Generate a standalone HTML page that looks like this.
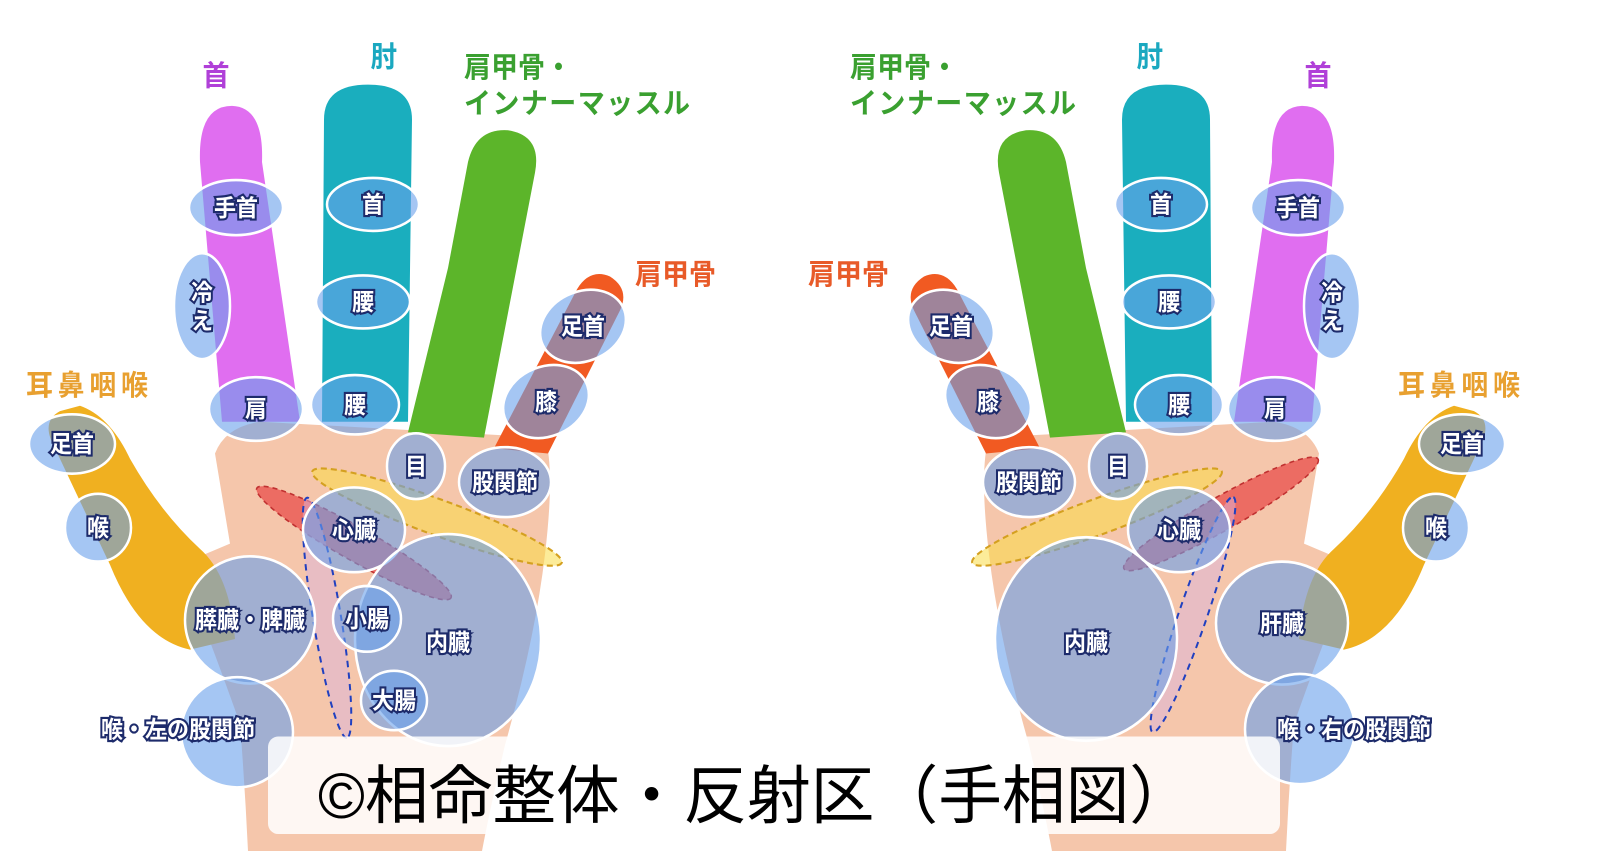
<!DOCTYPE html>
<html><head><meta charset="utf-8"><style>
html,body{margin:0;padding:0;background:#fff;}
svg{display:block;}
.l{font-family:"Liberation Sans","Noto Sans CJK JP",sans-serif;font-weight:bold;font-size:22px;fill:#fff;stroke:#1d2b6b;stroke-width:4px;paint-order:stroke;text-anchor:middle;dominant-baseline:central;}
.h{font-family:"Liberation Sans","Noto Sans CJK JP",sans-serif;font-weight:bold;font-size:27px;}
.e{fill:rgba(105,160,235,0.6);stroke:#fff;stroke-width:2.5;}
</style></head><body>
<svg width="1616" height="866" viewBox="0 0 1616 866" xmlns="http://www.w3.org/2000/svg">
<defs>
<g id="hand">
  <path d="M215,425 Q225,400 260,395 L545,410 Q555,440 545,520 Q535,600 505,700 Q490,760 482,800 L248,800 Q245,740 240,680 Q210,600 180,530 L230,510 Z" fill="#f5c6ab"/>
  <path d="M60,385 Q40,395 55,420 Q80,470 110,530 Q140,600 190,610 L235,600 Q230,540 200,515 Q160,480 130,430 Q110,390 80,380 Z" fill="#f0b020"/>
  <path d="M200,150 Q198,97 232,97 Q264,98 262,150 L300,395 L222,395 Z" fill="#e06ef0"/>
  <path d="M324,110 Q324,77 368,77 Q412,77 412,110 L408,395 L322,395 Z" fill="#1aaebe"/>
  <path d="M468,150 Q476,118 508,120 Q542,125 535,160 L484,410 L408,405 L448,250 Z" fill="#5cb52a"/>
  <path d="M577,270 Q590,250 610,258 Q630,270 620,290 L548,425 L494,420 Z" fill="#f15a22"/>
</g>
</defs>
<g transform="translate(0,3) scale(1,1.06)">
<use href="#hand"/>
<use href="#hand" transform="matrix(-1 0 0 1 1534 0)"/>

<ellipse cx="362" cy="487" rx="110" ry="16" transform="rotate(28 313 482)" fill="rgba(230,60,60,0.65)" stroke="#c03030" stroke-width="1.5" stroke-dasharray="5 4"/>
<ellipse cx="437" cy="485" rx="132" ry="17" transform="rotate(19 437 485)" fill="rgba(250,220,70,0.55)" stroke="#d4a020" stroke-width="2" stroke-dasharray="6 4"/>
<ellipse cx="327" cy="580" rx="115" ry="14" transform="rotate(80 327 580)" fill="rgba(220,180,220,0.5)" stroke="#2040c0" stroke-width="2" stroke-dasharray="6 5"/>
<ellipse class="e" cx="236" cy="193" rx="47" ry="26"/>
<ellipse class="e" cx="373" cy="190" rx="46" ry="25"/>
<ellipse class="e" cx="202" cy="286" rx="28" ry="50"/>
<ellipse class="e" cx="363" cy="282" rx="47" ry="25"/>
<ellipse class="e" cx="256" cy="383" rx="47" ry="30"/>
<ellipse class="e" cx="355" cy="379" rx="44" ry="28"/>
<ellipse class="e" cx="72" cy="416" rx="43" ry="28"/>
<ellipse class="e" cx="98" cy="495" rx="33" ry="32"/>
<ellipse class="e" cx="416" cy="437" rx="29" ry="31"/>
<ellipse class="e" cx="505" cy="452" rx="46" ry="33"/>
<ellipse class="e" cx="583" cy="305" rx="44" ry="33" transform="rotate(-20 583 305)"/>
<ellipse class="e" cx="546" cy="376" rx="44" ry="33" transform="rotate(-20 546 376)"/>
<ellipse class="e" cx="354" cy="497" rx="51" ry="40"/>
<ellipse class="e" cx="250" cy="582" rx="65" ry="60"/>
<ellipse class="e" cx="448" cy="601" rx="93" ry="100"/>
<ellipse class="e" cx="367" cy="581" rx="34" ry="31"/>
<ellipse class="e" cx="394" cy="658" rx="33" ry="28"/>
<ellipse class="e" cx="237" cy="688" rx="56" ry="52"/>

<ellipse cx="1221" cy="482" rx="110" ry="16" transform="rotate(-28 1221 482)" fill="rgba(230,60,60,0.65)" stroke="#c03030" stroke-width="1.5" stroke-dasharray="5 4"/>
<ellipse cx="1097" cy="485" rx="132" ry="17" transform="rotate(-19 1097 485)" fill="rgba(250,220,70,0.55)" stroke="#d4a020" stroke-width="2" stroke-dasharray="6 4"/>
<ellipse cx="1193" cy="577" rx="118" ry="14" transform="rotate(-70 1193 577)" fill="rgba(220,180,220,0.5)" stroke="#2040c0" stroke-width="2" stroke-dasharray="6 5"/>
<ellipse class="e" cx="1298" cy="193" rx="47" ry="26"/>
<ellipse class="e" cx="1161" cy="190" rx="46" ry="25"/>
<ellipse class="e" cx="1332" cy="286" rx="28" ry="50"/>
<ellipse class="e" cx="1169" cy="282" rx="47" ry="25"/>
<ellipse class="e" cx="1275" cy="383" rx="47" ry="30"/>
<ellipse class="e" cx="1179" cy="379" rx="44" ry="28"/>
<ellipse class="e" cx="1462" cy="416" rx="43" ry="28"/>
<ellipse class="e" cx="1436" cy="495" rx="33" ry="32"/>
<ellipse class="e" cx="1118" cy="437" rx="29" ry="31"/>
<ellipse class="e" cx="1029" cy="452" rx="46" ry="33"/>
<ellipse class="e" cx="951" cy="305" rx="44" ry="33" transform="rotate(20 951 305)"/>
<ellipse class="e" cx="988" cy="376" rx="44" ry="33" transform="rotate(20 988 376)"/>
<ellipse class="e" cx="1179" cy="497" rx="51" ry="40"/>
<ellipse class="e" cx="1086" cy="600" rx="91" ry="96"/>
<ellipse class="e" cx="1282" cy="585" rx="66" ry="58"/>
<ellipse class="e" cx="1300" cy="685" rx="55" ry="52"/>

<g class="h">
<text x="216" y="78" text-anchor="middle" fill="#b040d8">首</text>
<text x="384" y="60" text-anchor="middle" fill="#1aa8c0">肘</text>
<text x="464" y="70" fill="#3aa030">肩甲骨・</text>
<text x="464" y="104" fill="#3aa030" textLength="226">インナーマッスル</text>
<text x="635" y="265" fill="#e85a28">肩甲骨</text>
<text x="26" y="370" fill="#e8a030" textLength="122">耳鼻咽喉</text>
<text x="1318" y="78" text-anchor="middle" fill="#b040d8">首</text>
<text x="1150" y="60" text-anchor="middle" fill="#1aa8c0">肘</text>
<text x="850" y="70" fill="#3aa030">肩甲骨・</text>
<text x="850" y="104" fill="#3aa030" textLength="226">インナーマッスル</text>
<text x="808" y="265" fill="#e85a28">肩甲骨</text>
<text x="1398" y="370" fill="#e8a030" textLength="122">耳鼻咽喉</text>
</g>

<g class="l">
<text x="236" y="193">手首</text>
<text x="373" y="190">首</text>
<text x="202" y="273">冷</text><text x="202" y="300">え</text>
<text x="363" y="282">腰</text>
<text x="256" y="383">肩</text>
<text x="355" y="379">腰</text>
<text x="72" y="416">足首</text>
<text x="98" y="495">喉</text>
<text x="416" y="437">目</text>
<text x="505" y="452">股関節</text>
<text x="583" y="305">足首</text>
<text x="546" y="376">膝</text>
<text x="354" y="497">心臓</text>
<text x="250" y="582">膵臓・脾臓</text>
<text x="367" y="581">小腸</text>
<text x="448" y="603">内臓</text>
<text x="394" y="658">大腸</text>
<text x="178" y="685">喉・左の股関節</text>
<text x="1298" y="193">手首</text>
<text x="1161" y="190">首</text>
<text x="1332" y="273">冷</text><text x="1332" y="300">え</text>
<text x="1169" y="282">腰</text>
<text x="1275" y="383">肩</text>
<text x="1179" y="379">腰</text>
<text x="1462" y="416">足首</text>
<text x="1436" y="495">喉</text>
<text x="1118" y="437">目</text>
<text x="1029" y="452">股関節</text>
<text x="951" y="305">足首</text>
<text x="988" y="376">膝</text>
<text x="1179" y="497">心臓</text>
<text x="1086" y="603">内臓</text>
<text x="1282" y="585">肝臓</text>
<text x="1354" y="685">喉・右の股関節</text>
</g>

<rect x="268" y="692" width="1012" height="92" rx="10" fill="rgba(255,255,255,0.85)"/>
<text x="318" y="769" font-family="'Liberation Sans','Noto Sans CJK JP',sans-serif" font-size="60" fill="#000" textLength="875" lengthAdjust="spacingAndGlyphs">©相命整体・反射区（手相図）</text>
</g>
</svg>
</body></html>
